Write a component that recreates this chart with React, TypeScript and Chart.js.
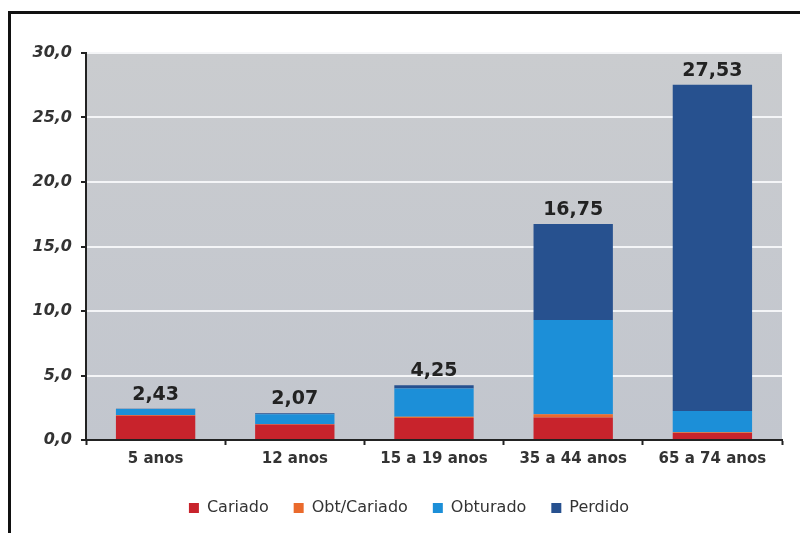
import React, { useEffect, useRef } from "react";
import { Chart, registerables } from "chart.js";

Chart.register(...registerables);

const categories = ["5 anos", "12 anos", "15 a 19 anos", "35 a 44 anos", "65 a 74 anos"];
const cariado = [1.88, 1.2, 1.7, 1.75, 0.55];
const obtCariado = [0.05, 0.05, 0.1, 0.25, 0.05];
const obturado = [0.48, 0.75, 2.2, 7.3, 1.65];
const perdido = [0.02, 0.07, 0.25, 7.45, 25.28];
const totals = ["2,43", "2,07", "4,25", "16,75", "27,53"];
const yTicks = [0, 5, 10, 15, 20, 25, 30];

const FONT = "'DejaVu Sans', Verdana, sans-serif";

export default function App() {
  const ref = useRef<HTMLCanvasElement | null>(null);

  useEffect(() => {
    const canvas = ref.current;
    if (!canvas) return;

    const bgPlugin = {
      id: "bg",
      afterLayout(chart: any) {
        if (chart.legend) {
          chart.legend.left += 18;
          chart.legend.right += 18;
        }
      },
      beforeDraw(chart: any) {
        const { ctx, chartArea: a } = chart;
        const g = ctx.createLinearGradient(0, a.top, 0, a.bottom);
        g.addColorStop(0, "#cacccf");
        g.addColorStop(1, "#c2c6ce");
        ctx.save();
        ctx.fillStyle = g;
        ctx.fillRect(a.left, a.top, a.right - a.left, a.bottom - a.top);
        ctx.restore();
      },
    };

    const totalsPlugin = {
      id: "totals",
      afterDatasetsDraw(chart: any) {
        const { ctx } = chart;
        const meta = chart.getDatasetMeta(3);
        ctx.save();
        ctx.font = `bold 19px ${FONT}`;
        ctx.fillStyle = "#222222";
        ctx.textAlign = "center";
        ctx.textBaseline = "alphabetic";
        meta.data.forEach((bar: any, i: number) => {
          ctx.fillText(totals[i], bar.x, bar.y - 9);
        });
        ctx.restore();
      },
    };

    const chart = new Chart(canvas, {
      type: "bar",
      data: {
        labels: categories,
        datasets: [
          { label: "Cariado", data: cariado, backgroundColor: "#c8232c" },
          { label: "Obt/Cariado", data: obtCariado, backgroundColor: "#ea6a2c" },
          { label: "Obturado", data: obturado, backgroundColor: "#1c8fd8" },
          { label: "Perdido", data: perdido, backgroundColor: "#27518f" },
        ],
      },
      options: {
        animation: false,
        responsive: false,
        maintainAspectRatio: false,
        layout: { padding: { left: 0, top: 53, right: 18, bottom: 7 } },
        datasets: {
          bar: { categoryPercentage: 1, barPercentage: 0.57, borderWidth: 0 },
        },
        plugins: {
          legend: {
            position: "bottom",
            labels: {
              boxWidth: 10,
              boxHeight: 10,
              padding: 25,
              color: "#333333",
              font: { family: FONT, size: 16 },
            },
          },
          tooltip: { enabled: false },
        },
        scales: {
          x: {
            stacked: true,
            afterFit(scale: any) {
              scale.height = 35;
            },
            grid: {
              offset: true,
              drawOnChartArea: false,
              tickColor: "#222222",
              tickLength: 5,
              tickWidth: 2,
            },
            border: { color: "#222222", width: 2 },
            ticks: {
              color: "#333333",
              padding: 5,
              font: { family: FONT, size: 15, weight: "bold" },
            },
          },
          y: {
            stacked: true,
            min: 0,
            max: 30,
            afterFit(scale: any) {
              scale.width = 86;
            },
            afterBuildTicks(scale: any) {
              scale.ticks = yTicks.map((v) => ({ value: v }));
            },
            grid: {
              color: "#f4f5f7",
              lineWidth: 2,
              tickColor: "#222222",
              tickLength: 5,
            },
            border: { color: "#222222", width: 2 },
            ticks: {
              color: "#333333",
              padding: 9,
              font: { family: FONT, size: 16, weight: "bold", style: "italic" },
              callback: (v: any) => Number(v).toFixed(1).replace(".", ","),
            },
          },
        },
      },
      plugins: [bgPlugin, totalsPlugin],
    });

    return () => chart.destroy();
  }, []);

  return (
    <div
      style={{
        position: "fixed",
        left: 0,
        top: 0,
        width: 800,
        height: 533,
        background: "#ffffff",
      }}
    >
      <canvas ref={ref} width={800} height={533} style={{ position: "absolute", left: 0, top: 0 }} />
      <div
        style={{
          position: "absolute",
          left: 8,
          top: 11,
          width: 792,
          height: 522,
          borderLeft: "3px solid #111",
          borderTop: "3px solid #111",
          pointerEvents: "none",
        }}
      />
    </div>
  );
}
